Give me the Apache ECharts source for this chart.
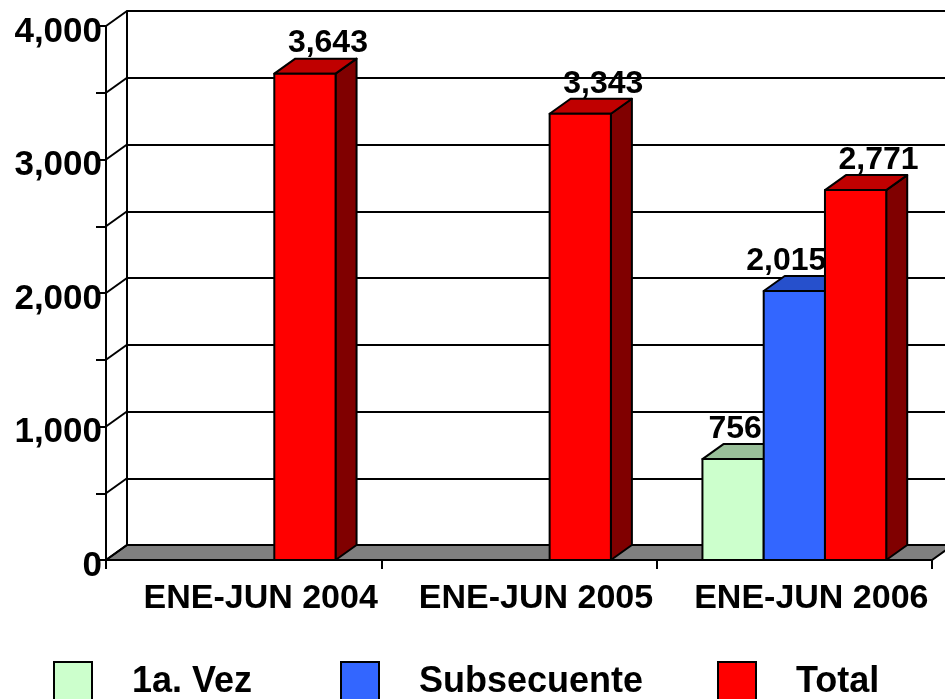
<!DOCTYPE html>
<html>
<head>
    <meta charset="utf-8">
    <title>ENE-JUN 2004-2006</title>
    <script type="text/javascript" src="https://cdn.jsdelivr.net/npm/echarts@6/dist/echarts.min.js"></script>
    <style>
        html, body { margin:0; padding:0; background:#fff; }
        #chart { width:945px; height:699px; }
    </style>
</head>
<body>
<div id="chart"></div>
<script type="text/javascript">
// datos
var categorias = ['ENE-JUN 2004', 'ENE-JUN 2005', 'ENE-JUN 2006'];
var primeraVez = [null, null, 756];
var subsecuente = [null, null, 2015];
var total = [3643, 3343, 2771];
var nivelesPared = [0, 500, 1000, 1500, 2000, 2500, 3000, 3500, 4000];

var DX = 21, DY = -15;   // profundidad 3d en px
var FONT = '"Liberation Sans", Arial, sans-serif';

function pares(arr) {
    return arr.map(function (v, i) { return [i, v]; });
}

// barra 3d: cara frontal, tapa, lado
function barra3d(slot, frente, tapa, lado, dxLabel) {
    return function (params, api) {
        var ci = api.value(0), v = api.value(1);
        if (v == null || isNaN(v)) return;
        var base = api.coord([ci, 0]);
        var arriba = api.coord([ci, v]);
        var bw = api.size([1, 0])[0] * 0.2225;
        var x0 = base[0] + (slot - 1) * bw - bw / 2, x1 = x0 + bw;
        var y0 = base[1], y1 = arriba[1];
        var borde = { stroke: '#000', lineWidth: 2, lineJoin: 'round' };
        return {
            type: 'group',
            children: [
                { type: 'polygon', shape: { points: [[x1, y1], [x1 + DX, y1 + DY], [x1 + DX, y0 + DY], [x1, y0]] },
                  style: Object.assign({ fill: lado }, borde) },
                { type: 'polygon', shape: { points: [[x0, y1], [x0 + DX, y1 + DY], [x1 + DX, y1 + DY], [x1, y1]] },
                  style: Object.assign({ fill: tapa }, borde) },
                { type: 'rect', shape: { x: x0, y: y1, width: bw, height: y0 - y1 },
                  style: Object.assign({ fill: frente }, borde) },
                { type: 'text', z2: 50,
                  style: { x: x0 + bw / 2 + dxLabel, y: y1 - 30, text: echarts.format.addCommas(v),
                           fill: '#000', font: 'bold 32px ' + FONT, align: 'center', verticalAlign: 'middle' } }
            ]
        };
    };
}

var myChart = echarts.init(document.getElementById('chart'));

var legendBase = {
    top: 661, padding: 0, icon: 'rect', itemWidth: 38, itemHeight: 40,
    itemStyle: { borderColor: '#000', borderWidth: 2 },
    textStyle: { color: '#000', fontWeight: 'bold', fontSize: 36, fontFamily: FONT,
                 padding: [5, 0, 0, 35] },
    selectedMode: false
};

var option = {
    animation: false,
    backgroundColor: '#fff',
    legend: [
        Object.assign({ left: 53, data: ['1a. Vez'] }, legendBase),
        Object.assign({ left: 340, data: ['Subsecuente'] }, legendBase),
        Object.assign({ left: 717, data: ['Total'] }, legendBase)
    ],
    grid: [
        { left: 106, top: 26, right: 13, bottom: 139 },    // plano frontal
        { left: 127, top: 11, right: 0, bottom: 154 }      // pared del fondo
    ],
    xAxis: [
        {
            type: 'category', gridIndex: 0, data: categorias,
            axisLine: { show: true, lineStyle: { color: '#000', width: 2 } },
            axisTick: { show: true, length: 9, interval: 0, lineStyle: { color: '#000', width: 2 } },
            axisLabel: { color: '#000', fontWeight: 'bold', fontSize: 34, fontFamily: FONT,
                         interval: 0, hideOverlap: false, margin: 22, padding: [0, 0, 0, 34] },
            z: 5
        },
        { type: 'value', gridIndex: 1, show: false, min: 0, max: 1 }
    ],
    yAxis: [
        {
            type: 'value', gridIndex: 0, min: 0, max: 4000, interval: 1000,
            axisLine: { show: true, lineStyle: { color: '#000', width: 2 } },
            axisTick: { show: true, length: 10, lineStyle: { color: '#000', width: 2 } },
            minorTick: { show: true, splitNumber: 2, length: 10, lineStyle: { color: '#000', width: 2 } },
            splitLine: { show: false },
            axisLabel: { margin: 4,
                         formatter: function (v) { return '{a|' + echarts.format.addCommas(v) + '}'; },
                         rich: { a: { color: '#000', fontWeight: 'bold', fontSize: 35, fontFamily: FONT,
                                      padding: [12, 0, 0, 0] } } },
            z: 5
        },
        {
            type: 'value', gridIndex: 1, min: 0, max: 4000, interval: 500,
            axisLine: { show: true, lineStyle: { color: '#000', width: 2 } },
            axisTick: { show: false }, axisLabel: { show: false },
            splitLine: { show: true, lineStyle: { color: '#000', width: 2 } }
        }
    ],
    series: [
        {   // piso gris
            type: 'custom', name: 'piso', z: 1, silent: true, xAxisIndex: 0, yAxisIndex: 0,
            data: [[0, 0]],
            renderItem: function (params, api) {
                var cs = params.coordSys;
                var y = api.coord([0, 0])[1];
                var xa = cs.x, xb = cs.x + cs.width;
                return { type: 'polygon',
                         shape: { points: [[xa, y], [xa + DX, y + DY], [xb + DX, y + DY], [xb, y]] },
                         style: { fill: '#808080', stroke: '#000', lineWidth: 2 } };
            }
        },
        {   // lineas de la pared izquierda
            type: 'custom', name: 'pared', z: 1, silent: true, xAxisIndex: 0, yAxisIndex: 0,
            data: nivelesPared.map(function (v) { return [0, v]; }),
            renderItem: function (params, api) {
                var cs = params.coordSys;
                var y = api.coord([0, api.value(1)])[1];
                return { type: 'line', shape: { x1: cs.x, y1: y, x2: cs.x + DX, y2: y + DY },
                         style: { stroke: '#000', lineWidth: 2 } };
            }
        },
        {
            type: 'custom', name: '1a. Vez', z: 3, xAxisIndex: 0, yAxisIndex: 0,
            itemStyle: { color: '#CCFFCC' },
            data: pares(primeraVez),
            renderItem: barra3d(0, '#CCFFCC', '#99BF99', '#88AA88', 2)
        },
        {
            type: 'custom', name: 'Subsecuente', z: 3, xAxisIndex: 0, yAxisIndex: 0,
            itemStyle: { color: '#3366FF' },
            data: pares(subsecuente),
            renderItem: barra3d(1, '#3366FF', '#2650CC', '#1A3399', -8)
        },
        {
            type: 'custom', name: 'Total', z: 3, xAxisIndex: 0, yAxisIndex: 0,
            itemStyle: { color: '#FF0000' },
            data: pares(total),
            renderItem: barra3d(2, '#FF0000', '#C00000', '#800000', 23)
        }
    ]
};

myChart.setOption(option);
</script>
</body>
</html>
